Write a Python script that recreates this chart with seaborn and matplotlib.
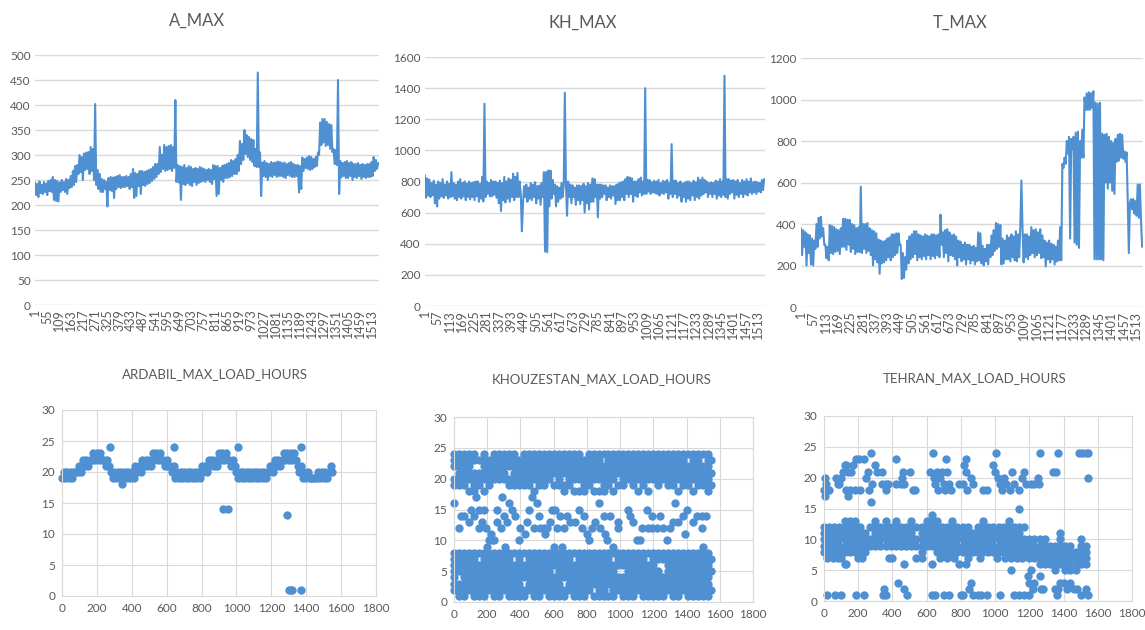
import matplotlib
matplotlib.use("Agg")
import matplotlib.pyplot as plt
import numpy as np
import pandas as pd
import seaborn as sns

BLUE = "#4E90D2"
GREY = "#595959"
GRID = "#D9D9D9"

# daily peak load, one value read every 5 days (each row is 100 days)
A_MAX = [
    245, 220, 242, 216, 247, 224, 240, 222, 246, 226, 243, 220, 248, 228, 250, 226, 256, 210, 250, 208,
    248, 207, 245, 226, 250, 230, 246, 226, 252, 222, 250, 234, 258, 236, 268, 240, 278, 246, 280, 262,
    300, 266, 296, 250, 303, 270, 305, 272, 306, 262, 316, 268, 312, 250, 402, 240, 270, 232, 262, 226,
    252, 226, 250, 232, 246, 197, 254, 230, 256, 228, 255, 214, 256, 232, 258, 236, 260, 234, 256, 236,
    256, 236, 258, 238, 256, 232, 262, 236, 272, 214, 264, 218, 262, 238, 268, 222, 268, 240, 266, 238,
    268, 242, 270, 244, 272, 248, 276, 252, 282, 256, 282, 262, 316, 266, 300, 272, 320, 268, 316, 270,
    318, 272, 320, 268, 316, 274, 410, 246, 280, 245, 278, 210, 276, 242, 280, 240, 274, 244, 278, 240,
    276, 238, 272, 246, 274, 240, 272, 244, 276, 246, 274, 248, 272, 246, 270, 250, 272, 246, 270, 242,
    280, 252, 278, 218, 278, 222, 274, 250, 278, 246, 280, 254, 282, 254, 284, 256, 290, 258, 288, 262,
    292, 262, 300, 268, 328, 282, 322, 290, 350, 302, 340, 296, 336, 290, 332, 286, 330, 278, 312, 276,
    465, 276, 305, 218, 285, 258, 288, 256, 284, 250, 282, 258, 286, 256, 284, 260, 285, 256, 287, 258,
    286, 258, 284, 256, 285, 254, 282, 260, 284, 258, 286, 256, 282, 256, 280, 258, 280, 225, 278, 232,
    295, 268, 292, 274, 295, 272, 298, 270, 296, 272, 292, 276, 296, 278, 305, 300, 365, 320, 372, 325,
    372, 318, 366, 320, 362, 312, 360, 306, 312, 282, 310, 280, 450, 222, 288, 255, 284, 258, 286, 254,
    288, 254, 284, 258, 286, 250, 282, 256, 282, 254, 284, 258, 280, 252, 282, 256, 280, 254, 282, 256,
    282, 256, 286, 258, 296, 268, 290, 272, 284,
]
KH_MAX = [
    840, 695, 820, 710, 812, 700, 790, 712, 805, 660, 780, 640, 800, 690, 790, 705, 815, 695, 780, 710,
    800, 690, 785, 700, 860, 705, 790, 690, 780, 680, 800, 700, 815, 690, 790, 705, 800, 680, 785, 700,
    800, 685, 790, 700, 795, 680, 800, 705, 800, 670, 785, 690, 830, 672, 1300, 700, 800, 720, 790, 705,
    810, 705, 800, 715, 800, 695, 790, 660, 805, 610, 790, 680, 830, 665, 800, 690, 820, 670, 810, 700,
    850, 680, 830, 700, 855, 700, 800, 720, 480, 660, 770, 700, 780, 670, 760, 690, 790, 680, 780, 700,
    795, 660, 770, 690, 775, 650, 790, 700, 860, 350, 860, 345, 870, 640, 870, 690, 810, 720, 780, 640,
    770, 670, 760, 690, 790, 700, 780, 1370, 790, 580, 800, 700, 780, 660, 775, 700, 760, 650, 775, 680,
    775, 655, 770, 680, 785, 600, 770, 660, 790, 620, 780, 670, 820, 670, 815, 700, 780, 570, 780, 690,
    780, 700, 775, 720, 775, 680, 760, 700, 775, 690, 770, 710, 770, 655, 780, 680, 790, 680, 795, 700,
    800, 680, 815, 720, 830, 700, 825, 720, 820, 670, 800, 710, 800, 700, 815, 730, 825, 710, 800, 720,
    1400, 720, 810, 735, 810, 720, 795, 730, 805, 725, 800, 720, 810, 710, 790, 725, 805, 720, 800, 730,
    810, 690, 790, 720, 1040, 700, 805, 720, 805, 695, 790, 710, 800, 670, 785, 700, 795, 670, 800, 690,
    800, 680, 790, 710, 805, 680, 795, 700, 825, 690, 810, 710, 825, 720, 810, 730, 800, 700, 790, 720,
    795, 700, 790, 720, 805, 690, 800, 710, 815, 700, 800, 715, 1480, 700, 815, 690, 815, 720, 805, 730,
    810, 690, 800, 715, 810, 700, 790, 720, 810, 700, 800, 720, 815, 710, 800, 730, 820, 720, 795, 730,
    800, 720, 795, 735, 790, 730, 810, 745, 815,
]
T_MAX = [
    380, 250, 370, 290, 360, 200, 350, 260, 345, 205, 330, 200, 320, 280, 400, 290, 430, 330, 435, 340,
    380, 300, 300, 235, 290, 225, 395, 260, 390, 255, 385, 265, 375, 270, 370, 255, 380, 290, 425, 290,
    425, 275, 420, 300, 420, 265, 400, 280, 395, 255, 380, 265, 385, 265, 580, 260, 400, 280, 400, 260,
    405, 270, 380, 250, 370, 200, 365, 230, 355, 215, 325, 160, 320, 210, 315, 215, 320, 225, 330, 240,
    335, 225, 350, 240, 350, 250, 355, 260, 355, 300, 300, 135, 260, 140, 240, 180, 320, 210, 340, 230,
    350, 240, 365, 255, 365, 225, 350, 240, 345, 230, 340, 245, 350, 230, 345, 250, 340, 230, 350, 245,
    350, 235, 345, 250, 350, 240, 445, 300, 360, 240, 370, 260, 375, 220, 360, 250, 345, 245, 350, 230,
    340, 200, 320, 240, 315, 220, 300, 230, 310, 205, 300, 230, 300, 210, 290, 225, 295, 205, 285, 220,
    360, 225, 355, 210, 295, 200, 280, 220, 300, 205, 300, 240, 345, 250, 370, 270, 405, 280, 400, 290,
    395, 205, 330, 210, 320, 230, 345, 230, 335, 220, 350, 240, 340, 225, 365, 220, 350, 240, 385, 610,
    380, 215, 350, 240, 350, 230, 340, 250, 385, 260, 370, 240, 375, 250, 360, 260, 375, 235, 345, 240,
    320, 195, 310, 230, 320, 215, 305, 230, 300, 205, 290, 220, 320, 225, 385, 225, 690, 670, 720, 690,
    800, 740, 820, 330, 810, 760, 820, 310, 840, 300, 845, 285, 800, 720, 855, 720, 1010, 950, 1030, 950,
    1035, 950, 1030, 960, 1040, 230, 985, 230, 980, 230, 985, 230, 835, 225, 830, 600, 835, 570, 820, 600,
    800, 560, 790, 545, 810, 700, 830, 705, 835, 720, 830, 715, 750, 700, 745, 520, 260, 500, 520, 470,
    520, 450, 510, 440, 590, 430, 590, 420, 290,
]

# hour of peak load, read every 10 days
ARDABIL_HOURS = [
    19, 20, 19, 20, 19, 20, 19, 20, 20, 20,
    21, 20, 22, 21, 22, 21, 22, 22, 23, 22,
    23, 22, 23, 22, 22, 21, 22, 21, 20, 19,
    20, 19, 20, 19, 20, 19, 20, 19, 20, 19,
    20, 19, 21, 20, 21, 20, 22, 21, 22, 21,
    22, 21, 23, 22, 23, 22, 23, 22, 22, 21,
    22, 21, 21, 20, 21, 19, 20, 19, 20, 19,
    20, 19, 20, 19, 20, 19, 20, 19, 20, 19,
    21, 20, 21, 20, 22, 21, 22, 21, 22, 21,
    23, 22, 23, 22, 23, 22, 22, 21, 22, 21,
    20, 19, 20, 19, 20, 19, 20, 19, 20, 19,
    20, 19, 20, 19, 20, 19, 20, 19, 20, 21,
    21, 20, 22, 21, 22, 21, 22, 23, 22, 23,
    22, 23, 22, 23, 22, 21, 20, 21, 19, 20,
    19, 20, 19, 19, 19, 19, 19, 20, 19, 20,
    19, 20, 19, 20, 21, 20,
]
ARDABIL_OUT_X = [275, 640, 1007, 1368, 925, 950, 1290, 1300, 1310, 1318, 1370, 345]
ARDABIL_OUT_Y = [24, 24, 24, 24, 14, 14, 13, 1, 1, 1, 1, 18]

# hours seen in each 30 day column
KHZ_TOP = [
    [24, 23, 22, 20, 19], [24, 23, 22, 21, 20, 19], [24, 23, 22, 21, 20, 19], [24, 23, 22, 21, 20, 18], [24, 23, 21, 20, 19, 18],
    [23, 21, 20, 19], [24, 23, 22, 21, 20, 18], [23, 22, 21, 20, 19], [24, 23, 22, 21, 20], [24, 23, 22, 21, 20],
    [24, 23, 22, 21, 20], [24, 23, 22, 20, 19], [24, 23, 22, 21, 20, 19], [23, 22, 21, 20, 19], [24, 23, 22, 21, 20, 19],
    [24, 23, 22, 21, 20, 19], [24, 23, 22, 21, 20, 18], [24, 23, 22, 21, 20, 19], [24, 23, 22, 21, 20, 19], [24, 23, 22, 21, 20],
    [24, 23, 22, 21, 19], [24, 23, 22, 21, 20, 19], [24, 23, 22, 21, 19, 18], [24, 23, 22, 21, 20, 19], [24, 23, 22, 21, 20, 18],
    [24, 23, 22, 21, 20, 18], [23, 22, 21, 20, 19, 18], [24, 23, 22, 21, 20, 19], [24, 23, 22, 21, 20, 18], [24, 23, 22, 21, 20, 18],
    [24, 22, 21, 20, 19, 18], [24, 23, 22, 21, 20, 19], [24, 23, 22, 21, 20, 18], [24, 23, 22, 21, 19], [24, 23, 22, 21, 20, 19],
    [24, 23, 22, 21, 20], [24, 23, 22, 21, 20, 19], [24, 23, 22, 21, 20, 18], [24, 23, 22, 21, 20, 19], [24, 23, 22, 21, 20, 18],
    [24, 23, 22, 21, 20], [24, 23, 22, 21, 20, 19], [24, 23, 22, 21, 20], [24, 23, 22, 21, 20, 19], [24, 23, 22, 21, 20, 19],
    [24, 23, 22, 21, 20, 18], [24, 23, 22, 21, 20, 19], [24, 22, 21, 20, 19], [24, 23, 22, 21, 20, 18], [24, 23, 22, 21, 20, 19],
    [24, 22, 21, 20, 19], [24, 23, 22, 21, 20, 19, 18],
]
KHZ_BOTTOM = [
    [8, 7, 6, 5, 4, 3, 2], [8, 7, 6, 5, 3, 2, 1], [8, 7, 6, 5, 4, 3, 2, 1], [8, 7, 6, 5, 4, 3, 2], [8, 7, 6, 5, 4, 3, 2, 1],
    [8, 6, 5, 4, 3, 2, 1], [8, 7, 6, 5, 4, 3, 2, 1], [8, 7, 6, 5, 4, 3, 2], [8, 7, 6, 5, 4, 3, 2, 1], [8, 7, 6, 5, 4, 3, 2, 1],
    [8, 7, 6, 5, 4, 3, 2], [8, 7, 6, 5, 4, 3, 2, 1], [8, 6, 5, 4, 3, 2, 1], [8, 7, 6, 5, 4, 3, 2, 1], [8, 6, 5, 4, 2, 1],
    [8, 7, 6, 5, 4, 3, 2], [8, 7, 6, 5, 4, 3, 2, 1], [8, 7, 6, 5, 4, 3, 2, 1], [8, 7, 6, 5, 4, 3, 2], [8, 7, 6, 5, 4, 3, 2, 1],
    [8, 7, 6, 4, 3, 2, 1], [8, 7, 6, 5, 4, 3, 2, 1], [8, 7, 6, 5, 4, 2, 1], [8, 7, 6, 5, 4, 3, 2], [8, 6, 5, 4, 3, 2, 1],
    [8, 7, 6, 5, 4, 3, 2, 1], [8, 7, 6, 5, 4, 3, 2, 1], [8, 7, 6, 5, 4, 3, 2], [8, 7, 6, 5, 4, 3, 1], [8, 7, 6, 5, 4, 3, 2, 1],
    [8, 7, 6, 5, 4, 3, 2, 1], [8, 7, 6, 5, 4, 3, 1], [8, 6, 5, 4, 3, 2, 1], [8, 7, 6, 4, 3, 2], [8, 7, 6, 4, 3, 2, 1],
    [8, 7, 6, 5, 4, 3, 2, 1], [8, 7, 6, 5, 4, 3, 2, 1], [8, 7, 6, 5, 4, 3, 2], [8, 7, 6, 5, 4, 3, 2, 1], [8, 6, 5, 4, 3, 2, 1],
    [8, 7, 6, 5, 4, 3, 2, 1], [8, 7, 5, 4, 3, 2, 1], [8, 7, 4, 3, 2, 1], [8, 7, 6, 5, 4, 3, 2], [8, 7, 6, 5, 4, 3, 2, 1],
    [8, 7, 6, 5, 4, 3, 2, 1], [8, 7, 6, 5, 4, 3, 2], [8, 7, 6, 5, 4, 3, 2, 1], [8, 7, 6, 5, 4, 3, 2, 1], [8, 7, 6, 5, 4, 3, 2, 1],
    [8, 7, 6, 5, 4, 3, 2, 1], [8, 7, 6, 5, 4, 3, 2, 1],
]
KHZ_MID_X = [
    0, 30, 40, 60, 90, 100, 120, 130, 150, 150, 170, 180, 190, 200, 210, 220, 230, 240, 260, 260,
    280, 290, 300, 310, 320, 330, 350, 370, 390, 400, 430, 440, 450, 470, 480, 500, 510, 520, 540, 550,
    560, 580, 590, 600, 610, 620, 640, 650, 660, 680, 700, 730, 750, 770, 780, 800, 810, 830, 850, 870,
    880, 900, 910, 920, 940, 960, 990, 990, 1050, 1060, 1080, 1100, 1120, 1130, 1160, 1170, 1190, 1190, 1220, 1240,
    1260, 1280, 1300, 1320, 1330, 1350, 1380, 1390, 1400, 1440, 1460, 1490, 1490, 1500, 1520,
    1550, 1550, 1550, 1550, 1550, 1550,
]
KHZ_MID_Y = [
    16, 12, 14, 14, 13, 15, 14, 17, 15, 12, 13, 15, 12, 9, 10, 11, 10, 10, 13, 15,
    12, 17, 14, 9, 13, 16, 15, 14, 10, 12, 11, 13, 15, 17, 12, 16, 14, 12, 12, 11,
    12, 13, 15, 9, 15, 12, 14, 9, 12, 14, 13, 13, 15, 12, 14, 11, 10, 12, 13, 16,
    12, 14, 11, 10, 14, 9, 13, 12, 15, 14, 13, 10, 10, 12, 15, 12, 14, 12, 12, 14,
    12, 10, 12, 13, 16, 13, 14, 11, 15, 13, 14, 14, 12, 9, 14,
    23, 21, 19, 7, 5, 2,
]

TEH_BAND = [
    [12, 11, 10, 9, 8], [12, 11, 10, 9, 8], [12, 11, 10, 9, 8], [12, 11, 10, 9, 8], [13, 12, 11, 10, 9, 8],
    [13, 12, 11, 10, 9, 8], [13, 12, 11, 10, 9, 8], [12, 11, 10, 9, 8], [11, 10, 9, 8], [12, 10, 9],
    [13, 12, 11, 10, 9], [12, 11, 10, 9], [13, 12, 11, 10, 9], [12, 11, 10, 9], [13, 12, 11, 10, 9],
    [12, 11, 10, 9], [12, 11, 10, 9], [13, 12, 11, 10, 9], [12, 10, 9], [12, 11, 10, 9, 8],
    [13, 12, 11, 10, 9], [14, 13, 12, 11, 10, 9], [13, 12, 11, 10, 9, 8], [12, 11, 10, 9, 8], [12, 11, 10, 9, 8],
    [13, 12, 11, 10, 9, 8], [12, 11, 10, 9, 8], [12, 11, 10, 9, 8], [12, 11, 10, 9, 8], [11, 10, 9, 8],
    [12, 11, 10, 9, 8], [13, 12, 11, 10, 9, 8], [12, 11, 10, 9, 8], [12, 11, 10, 9, 8], [12, 11, 10, 9, 8],
    [12, 11, 10, 9, 8], [13, 12, 11, 10, 9, 8], [12, 11, 10, 9, 8], [12, 11, 10, 9, 8], [12, 10, 9, 8],
    [10, 9, 8, 7], [10, 9, 8, 7], [10, 9, 8, 7, 6], [10, 9, 8, 7, 6], [9, 8, 7, 6],
    [9, 8, 7, 6, 5], [11, 10, 9, 8, 7, 6], [9, 8, 7, 6, 5], [9, 8, 7, 6, 5], [8, 7, 6, 5],
    [10, 9, 8, 7, 6], [9, 8, 7, 6],
]
TEH_SPARSE_X = [
    0, 5, 5, 10, 20, 30, 70, 80, 90, 100, 110, 120, 130, 140, 140, 130, 150, 160, 170, 180,
    185, 205, 210, 235, 245, 255, 265, 275, 275, 280, 300, 310, 340, 340, 360, 365, 375, 420, 420, 450,
    455, 460, 470, 500, 520, 530, 620, 635, 640, 650, 660, 665, 680, 690, 700, 705, 715, 720, 730, 740,
    790, 810, 820, 830, 830, 835, 860, 870, 930, 950, 985, 1000, 1005, 1015, 1030, 1040, 1050, 1065, 1085, 1100,
    1110, 1140, 1160, 1170, 1180, 1210, 1230, 1250, 1260, 1255, 1140, 1340, 1355, 1370, 1490, 1510, 1530, 1545, 1545,
    15, 65, 100, 185, 235, 345, 350, 360, 430, 470, 485, 630, 650, 700, 730, 800, 810, 850, 860, 870,
    900, 920, 950, 1030, 1110, 1140, 1170, 1090, 1200, 1190, 1200, 1210, 1220, 1230, 1260, 1280, 1270, 1350, 1360, 1370,
    1380, 1400, 1420, 1440, 1460, 1480, 1500, 1530, 1540,
    20, 50, 80, 200, 220, 380, 400, 470, 540, 570, 630, 680, 720, 760, 790, 830, 840, 910, 1010, 1060,
    1090, 1130, 1160, 100, 120, 130,
]
TEH_SPARSE_Y = [
    18, 20, 17, 19, 18, 18, 20, 19, 19, 20, 21, 22, 22, 21, 17, 18, 18, 21, 22, 18,
    23, 23, 18, 23, 20, 21, 18, 24, 16, 19, 22, 21, 21, 19, 19, 18, 19, 23, 19, 19,
    20, 21, 19, 21, 18, 18, 21, 24, 20, 19, 21, 18, 20, 21, 19, 18, 23, 21, 19, 18,
    19, 19, 22, 21, 23, 18, 20, 19, 18, 18, 22, 21, 24, 20, 19, 18, 20, 19, 18, 21,
    19, 18, 20, 21, 19, 19, 19, 20, 24, 19, 15, 21, 21, 24, 24, 24, 24, 24, 20,
    1, 1, 1, 1, 1, 1, 2, 1, 3, 2, 1, 1, 1, 1, 1, 1, 1, 2, 3, 1,
    1, 1, 1, 1, 1, 1, 1, 5, 1, 4, 3, 5, 2, 3, 4, 2, 2, 2, 1, 2,
    3, 3, 2, 3, 2, 2, 1, 2, 1,
    7, 7, 7, 7, 7, 7, 7, 6, 7, 7, 6, 7, 7, 7, 6, 6, 7, 7, 7, 7,
    7, 7, 7, 7, 6, 6,
]

LINE_TICK_STEP = {"A_MAX": 54, "KH_MAX": 56, "T_MAX": 56}
HOUR_TICKS = [0, 5, 10, 15, 20, 25, 30]
DAY_TICKS = [0, 200, 400, 600, 800, 1000, 1200, 1400, 1600, 1800]

W, H = 1145, 630


def px_axes(fig, left, right, top, bottom):
    return fig.add_axes([left / W, 1 - bottom / H, (right - left) / W, (bottom - top) / H])


def put_title(fig, text, x, y, size):
    fig.text(x / W, 1 - y / H, text, ha="center", va="center", fontsize=size, color=GREY)


def line_panel(fig, box, name, values, y_ticks, title_xy):
    ax = px_axes(fig, *box)
    frame = pd.DataFrame({"day": np.arange(len(values)) * 5 + 1, "load": values})
    sns.lineplot(data=frame, x="day", y="load", ax=ax, color=BLUE, linewidth=1.5, sort=False)
    ticks = np.arange(1, 1530, LINE_TICK_STEP[name])
    ax.set_xlim(1, 1545)
    ax.set_ylim(y_ticks[0], y_ticks[-1])
    ax.set_xticks(ticks)
    ax.set_xticklabels([str(t) for t in ticks], rotation=90, fontsize=9, color=GREY)
    ax.set_yticks(y_ticks)
    ax.set_yticklabels([str(t) for t in y_ticks], fontsize=8.5, color=GREY)
    ax.set_xlabel("")
    ax.set_ylabel("")
    ax.grid(False)
    ax.grid(axis="y", color=GRID, linewidth=1)
    ax.set_axisbelow(True)
    ax.tick_params(length=0, pad=3)
    sns.despine(ax=ax, left=True, top=True, right=True, bottom=True)
    put_title(fig, name, *title_xy, 12)


def scatter_panel(fig, box, title, x, y, title_xy):
    ax = px_axes(fig, *box)
    frame = pd.DataFrame({"day": x, "hour": y})
    sns.scatterplot(data=frame, x="day", y="hour", ax=ax, color=BLUE, s=36, linewidth=0, clip_on=False)
    ax.set_xlim(0, 1800)
    ax.set_ylim(0, 30)
    ax.set_xticks(DAY_TICKS)
    ax.set_yticks(HOUR_TICKS)
    ax.tick_params(length=0, pad=5, labelsize=8.5, labelcolor=GREY)
    ax.set_xlabel("")
    ax.set_ylabel("")
    ax.grid(True, color=GRID, linewidth=0.8)
    ax.set_axisbelow(True)
    for spine in ax.spines.values():
        spine.set_color(GRID)
        spine.set_linewidth(0.8)
    put_title(fig, title, *title_xy, 9.5)


def columns_to_points(columns):
    xs, ys = [], []
    for i, hours in enumerate(columns):
        for hour in hours:
            xs.append(i * 30)
            ys.append(hour)
    return xs, ys


sns.set_theme(style="whitegrid")
plt.rcParams["font.family"] = ["Lato", "DejaVu Sans"]

fig = plt.figure(figsize=(W / 100, H / 100), dpi=100)

line_panel(fig, (35, 379, 55, 305), "A_MAX", A_MAX, [0, 50, 100, 150, 200, 250, 300, 350, 400, 450, 500], (197, 21))
line_panel(fig, (425, 765, 57, 306), "KH_MAX", KH_MAX, [0, 200, 400, 600, 800, 1000, 1200, 1400, 1600], (583, 23))
line_panel(fig, (801, 1143, 58, 307), "T_MAX", T_MAX, [0, 200, 400, 600, 800, 1000, 1200], (960, 23))

ard_x = list(np.arange(len(ARDABIL_HOURS)) * 10) + ARDABIL_OUT_X
ard_y = ARDABIL_HOURS + ARDABIL_OUT_Y
scatter_panel(fig, (62, 376, 410, 596), "ARDABIL_MAX_LOAD_HOURS", ard_x, ard_y, (215, 374))

top_x, top_y = columns_to_points(KHZ_TOP)
bot_x, bot_y = columns_to_points(KHZ_BOTTOM)
scatter_panel(fig, (454, 753, 417, 602), "KHOUZESTAN_MAX_LOAD_HOURS",
              top_x + bot_x + KHZ_MID_X, top_y + bot_y + KHZ_MID_Y, (602, 379))

band_x, band_y = columns_to_points(TEH_BAND)
scatter_panel(fig, (824, 1132, 416, 601), "TEHRAN_MAX_LOAD_HOURS",
              band_x + TEH_SPARSE_X, band_y + TEH_SPARSE_Y, (975, 378))

fig.savefig("out.png", dpi=100)
